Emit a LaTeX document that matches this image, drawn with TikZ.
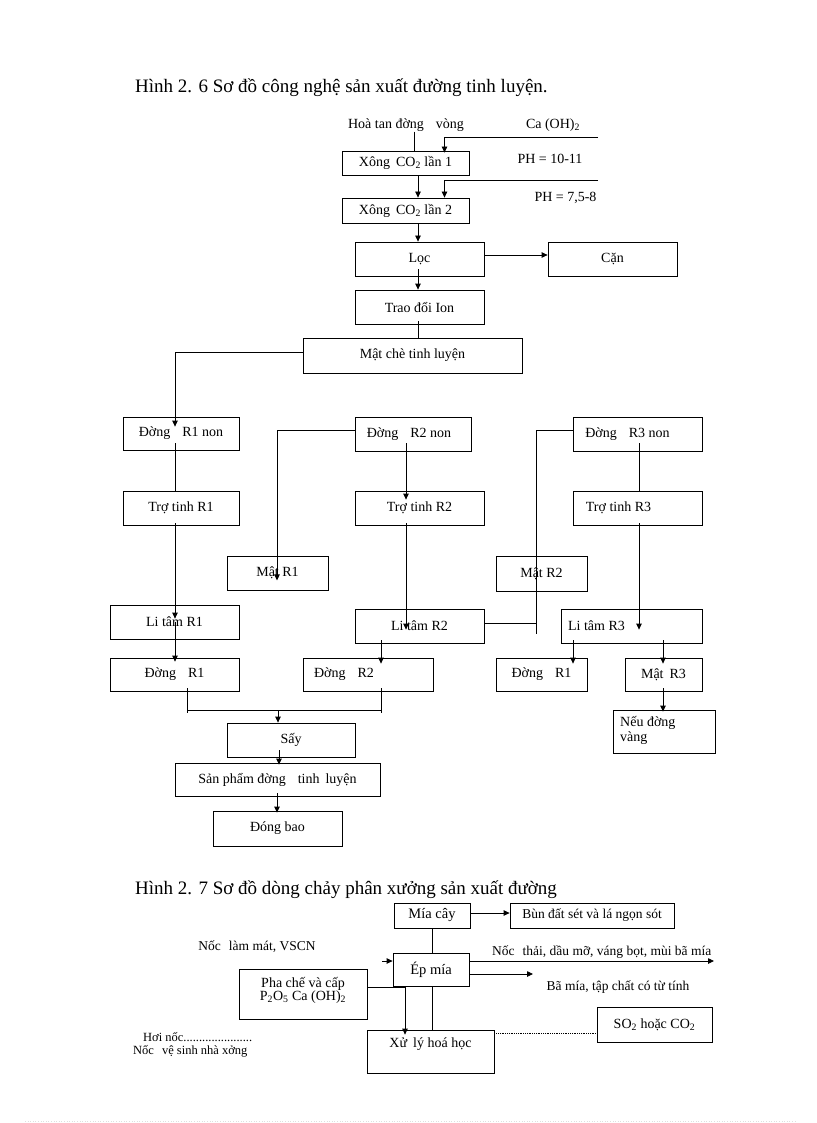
\documentclass[tikz,border=0pt]{standalone}
\usepackage{fontspec}
\setmainfont{Liberation Serif}
\usetikzlibrary{arrows.meta,calc}
\newcommand\fzbox{\fontsize{14}{15}\selectfont}
\newcommand\fzsmall{\fontsize{13.5}{14}\selectfont}
\newcommand\fztitle{\fontsize{19}{21}\selectfont}
\tikzset{
  box/.style={draw, line width=0.8pt, inner sep=0pt, align=center, font=\fzbox},
  lbl/.style={inner sep=0pt, font=\fzbox},
  slbl/.style={inner sep=0pt, font=\fzsmall},
  ln/.style={line width=0.8pt},
  arr/.style={line width=0.8pt, -{Triangle[length=6pt,width=5.5pt]}},
}
\begin{document}
\begin{tikzpicture}[x=1pt,y=-1pt]
\useasboundingbox (0,0) rectangle (816,1123);

% ---------- titles ----------
\node[inner sep=0pt, anchor=west, font=\fztitle] (t1) at (135,88) {Hình 2. 6 Sơ đồ công nghệ sản xuất đường tinh luyện.};
\node[inner sep=0pt, anchor=west, font=\fztitle] (t2) at (135,890) {Hình 2. 7 Sơ đồ dòng chảy phân xưởng sản xuất đường};

% ---------- column coordinates ----------
\coordinate (xH) at (414,0);
\coordinate (xCa) at (444.5,0);
\coordinate (xM) at (418,0);
\coordinate (xR1) at (175,0);
\coordinate (xMR1) at (277,0);
\coordinate (xR2) at (406,0);
\coordinate (xJ) at (536,0);
\coordinate (xR3) at (639,0);
\coordinate (xD2) at (381,0);
\coordinate (xD1b) at (573,0);
\coordinate (xMR3) at (663,0);
\coordinate (xD1) at (187,0);
\coordinate (xSay) at (278,0);
\coordinate (xSayB) at (279,0);
\coordinate (xSp) at (277,0);
\coordinate (xMia) at (432,0);
\coordinate (xPha) at (405,0);

% ---------- figure 2.6 ----------
\node[lbl] (hoa) at (406,125) {Hoà tan đờng\hspace{12pt}vòng};
\node[lbl] (ca) at (553,125) {Ca (OH)\textsubscript{2}};
\node[lbl] (ph1) at (550,159) {PH = 10-11};
\node[lbl] (ph2) at (565.5,198) {PH = 7,5-8};
\coordinate (caR) at (598,137);
\coordinate (caR2) at (598,180);

\node[box, minimum width=127pt, minimum height=24pt] (xong1) at (405.5,163) {Xông\hspace{6pt}CO\textsubscript{2} lần 1};
\node[box, minimum width=127pt, minimum height=25pt] (xong2) at (405.5,210.5) {Xông\hspace{6pt}CO\textsubscript{2} lần 2};
\node[box, minimum width=129pt, minimum height=34pt] (loc) at (419.5,259) {Lọc};
\node[box, minimum width=129pt, minimum height=34pt] (can) at (612.5,259) {Cặn};
\node[box, minimum width=129pt, minimum height=34pt] (trao) at (419.5,307) {Trao đổi Ion};
\node[box, minimum width=219pt, minimum height=35pt] (matche) at (412.5,355.5) {Mật chè tinh luyện};

\node[box, minimum width=116pt, minimum height=33pt] (dr1n) at (181,433.5) {Đờng\hspace{12pt}R1 non};
\node[box, minimum width=116pt, minimum height=34pt] (dr2n) at (413,434) {Đờng\hspace{12pt}R2 non\hspace{8pt}};
\node[box, minimum width=129pt, minimum height=34pt] (dr3n) at (637.5,434) {Đờng\hspace{12pt}R3 non\hspace{20pt}};
\node[box, minimum width=116pt, minimum height=34pt] (tt1) at (181,508) {Trợ tinh R1};
\node[box, minimum width=129pt, minimum height=34pt] (tt2) at (419.5,508) {Trợ tinh R2};
\node[box, minimum width=129pt, minimum height=34pt] (tt3) at (637.5,508) {Trợ tinh R3\hspace{38pt}};
\node[box, minimum width=101pt, minimum height=34pt] (matr1) at (277.5,573) {Mật R1};
\node[box, minimum width=91pt, minimum height=35pt] (matr2) at (541.5,573.5) {Mật R2};
\node[box, minimum width=129pt, minimum height=34pt] (lt1) at (174.5,622) {Li tâm R1};
\node[box, minimum width=129pt, minimum height=34pt] (lt2) at (419.5,626) {Li tâm R2};
\node[box, minimum width=141pt, minimum height=34pt] (lt3) at (631.5,626) {Li tâm R3\hspace{70pt}};
\node[box, minimum width=129pt, minimum height=33pt] (d1) at (174.5,674.5) {Đờng\hspace{12pt}R1};
\node[box, minimum width=130pt, minimum height=33pt] (d2) at (368,674.5) {Đờng\hspace{12pt}R2\hspace{48pt}};
\node[box, minimum width=91pt, minimum height=33pt] (d1b) at (541.5,674.5) {Đờng\hspace{12pt}R1};
\node[box, minimum width=77pt, minimum height=33pt] (mr3) at (663.5,674.5) {Mật\hspace{6pt}R3};
\node[box, minimum width=102pt, minimum height=43pt] (neu) at (664,731.5) {};
\node[lbl, anchor=west, align=left] (neut) at (620,730) {Nếu đờng\\vàng};
\node[box, minimum width=128pt, minimum height=34pt] (say) at (291,740) {Sấy};
\node[box, minimum width=205pt, minimum height=33pt] (sp) at (277.5,779.5) {Sản phẩm đờng\hspace{12pt}tinh\hspace{6pt}luyện};
\node[box, minimum width=129pt, minimum height=35pt] (dong) at (277.5,828.5) {Đóng bao};

% connectors 2.6
\draw[ln] (hoa.south -| xH) -- (xong1.north -| xH);
\draw[arr] (caR) -| ($(xong1.north -| xCa)+(0,2)$);
\draw[arr] (xong1.south -| xM) -- (xong2.north -| xM);
\draw[arr] (caR2) -| (xong2.north -| xCa);
\draw[arr] (xong2.south -| xM) -- (loc.north -| xM);
\draw[arr] ([yshift=4pt]loc.east) -- ([yshift=4pt]can.west);
\draw[arr] ($(loc.south -| xM)+(0,-7)$) -- (trao.north -| xM);
\draw[ln] ($(trao.south -| xM)+(0,-3)$) -- (matche.north -| xM);
\draw[arr] ([yshift=3.5pt]matche.west) -| ($(dr1n.north -| xR1)+(0,10)$);
\draw[ln] ($(dr1n.south -| xR1)+(0,-7)$) -- (tt1.north -| xR1);
\draw[arr] ($(tt1.south -| xR1)+(0,-2)$) -- ($(lt1.north -| xR1)+(0,14)$);
\draw[arr] ($(lt1.north -| xR1)+(0,17)$) -- ($(d1.north -| xR1)+(0,4)$);
\draw[arr] ([yshift=4pt]dr2n.west) -| ($(matr1.south -| xMR1)+(0,-10)$);
\draw[arr] ($(dr2n.south -| xR2)+(0,-8)$) -- ($(tt2.north -| xR2)+(0,9)$);
\draw[arr] ($(tt2.south -| xR2)+(0,-2)$) -- ($(lt2.north -| xR2)+(0,21)$);
\draw[arr] ($(lt2.south -| xD2)+(0,-3)$) -- ($(d2.north -| xD2)+(0,6)$);
\coordinate (jn) at ($(lt2.east)+(0,-3)$);
\draw[ln] (jn) -- (jn -| xJ);
\draw[ln] ([yshift=4pt]dr3n.west) -| ($(lt2.south -| xJ)+(0,-9)$);
\draw[ln] ($(dr3n.south -| xR3)+(0,-8)$) -- (tt3.north -| xR3);
\draw[arr] ($(tt3.south -| xR3)+(0,-2)$) -- ($(lt3.north -| xR3)+(0,21)$);
\draw[arr] ($(lt3.south -| xD1b)+(0,-3)$) -- ($(d1b.north -| xD1b)+(0,6)$);
\draw[arr] ($(lt3.south -| xMR3)+(0,-3)$) -- ($(mr3.north -| xMR3)+(0,6)$);
\draw[arr] ($(mr3.south -| xMR3)+(0,-3)$) -- ($(neu.north -| xMR3)+(0,2)$);
\coordinate (cl) at ($(d1.south -| xD1)+(0,19)$);
\coordinate (cr) at ($(d2.south -| xD2)+(0,19)$);
\draw[ln] ($(d1.south -| xD1)+(0,-3)$) -- ($(d1.south -| xD1)+(0,22)$);
\draw[ln] ($(d2.south -| xD2)+(0,-3)$) -- ($(d2.south -| xD2)+(0,22)$);
\draw[ln] (cl) -- (cr);
\draw[arr] (cl -| xSay) -- (say.north -| xSay);
\draw[arr] ($(say.south -| xSayB)+(0,-7)$) -- ($(sp.north -| xSayB)+(0,2)$);
\draw[arr] ($(sp.south -| xSp)+(0,-3)$) -- ($(dong.north -| xSp)+(0,2)$);

% ---------- figure 2.7 ----------
\node[box, minimum width=76pt, minimum height=25pt, font=\fontsize{14.5}{15}\selectfont] (mia) at (432,915.5) {Mía cây};
\node[box, minimum width=164pt, minimum height=25pt, font=\fontsize{13.5}{14}\selectfont] (bun) at (592,915.5) {Bùn đất sét và lá ngọn sót};
\node[box, minimum width=76pt, minimum height=33pt, font=\fontsize{14.5}{15}\selectfont] (ep) at (431,969.5) {Ép mía};
\node[box, minimum width=128pt, minimum height=50pt] (pha) at (303,994) {};
\node[lbl, align=center, font=\fontsize{14}{13}\selectfont] (phat) at (303,990) {Pha chế và cấp\\P\textsubscript{2}O\textsubscript{5} Ca (OH)\textsubscript{2}};
\node[box, minimum width=127pt, minimum height=43pt] (xuly) at (430.5,1051.5) {};
\node[lbl] (xulyt) at (430.5,1044) {Xử\hspace{6pt}lý hoá học};
\node[box, minimum width=115pt, minimum height=35pt] (so2) at (654.5,1024.5) {SO\textsubscript{2} hoặc CO\textsubscript{2}};

\node[slbl] (lmat) at (257,947) {Nốc\hspace{8pt}làm mát, VSCN};
\node[slbl, anchor=west] (nthai) at (492,952) {Nốc\hspace{8pt}thải, dầu mỡ, váng bọt, mùi bã mía};
\node[slbl] (bamia) at (618,987) {Bã mía, tập chất có từ tính};
\node[inner sep=0pt, anchor=west, font=\fontsize{12.5}{13}\selectfont] (hoi) at (143,1037) {Hơi nốc......................};
\node[inner sep=0pt, anchor=west, font=\fontsize{12.5}{13}\selectfont] (nvs) at (133,1051) {Nốc\hspace{8pt}vệ sinh nhà xởng};

\coordinate (epIn) at (382,961);
\coordinate (epOut1) at (714,961);
\coordinate (epOut2) at (533,974);
\draw[arr] ([yshift=2.5pt]mia.east) -- ([yshift=2.5pt]bun.west);
\draw[ln] (mia.south -| xMia) -- (ep.north -| xMia);
\draw[arr] (epIn) -- (ep.west |- epIn);
\draw[arr] (ep.east |- epOut1) -- (epOut1);
\draw[arr] (ep.east |- epOut2) -- (epOut2);
\draw[arr] ([yshift=7pt]pha.east) -| ($(xuly.north -| xPha)+(0,5)$);
\draw[ln] (ep.south -| xMia) -- (xuly.north -| xMia);
\coordinate (dotA) at ($(xuly.east)+(0,-18.5)$);
\draw[line width=0.8pt, densely dotted] (dotA) -- (so2.west |- dotA);

% faint page edge
\draw[gray!25, line width=0.6pt, dotted] (25,1121) -- (796,1121);
\end{tikzpicture}
\end{document}
